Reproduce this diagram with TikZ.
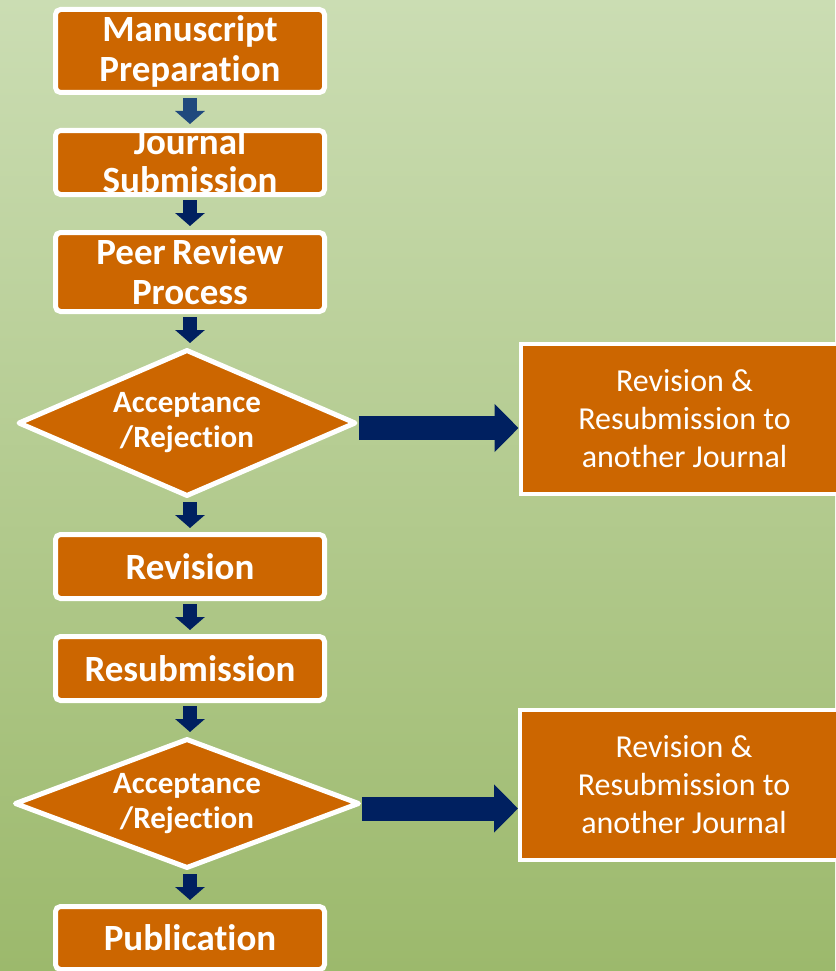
\documentclass[tikz,border=0pt]{standalone}
\usepackage{fontspec}
\setmainfont{Carlito}[Ligatures=NoCommon]
\usetikzlibrary{arrows.meta,positioning,shapes.geometric}

\definecolor{boxorange}{HTML}{CC6600}
\definecolor{navy}{HTML}{002060}
\definecolor{steel}{HTML}{1F497D}
\definecolor{bgtop}{HTML}{CBDDB3}
\definecolor{bgmid}{HTML}{B8CD98}
\definecolor{bgbot}{HTML}{9CB96C}

\begin{document}
\begin{tikzpicture}[node distance=33pt,
    box/.style={draw=white, fill=boxorange, line width=5pt, rounded corners=5pt,
      minimum width=269pt, inner sep=2pt, text=white, align=center,
      font=\fontsize{37}{40}\selectfont\bfseries},
    decision/.style={diamond, aspect=2.6, draw=white, fill=boxorange, line width=5pt,
      line join=round, inner sep=0pt, text=white, align=center,
      font=\fontsize{31}{35}\selectfont\bfseries},
    sidebox/.style={draw=white, fill=boxorange, line width=4pt, minimum width=328pt,
      minimum height=150pt, text=white, align=center,
      font=\fontsize{32}{38}\selectfont},
    flow/.style={draw=navy, line width=14pt, -{Triangle[length=13pt,width=29pt]},
      shorten <=3pt, shorten >=4pt},
    sideflow/.style={draw=navy, line width=24pt, -{Triangle[length=24pt,width=47pt]}}]

    % background
    \useasboundingbox (0,0) rectangle (835pt,-971pt);
    \shade[top color=bgtop, middle color=bgmid, bottom color=bgbot] (0,0) rectangle (835pt,-971pt);

    % the main column
    \node[box, minimum height=83pt]          (prep)    at (190pt,-51pt)  {Manuscript\\Preparation};
    \node[box, minimum height=64pt, text height=60pt, text depth=0pt,
          font=\fontsize{37}{38}\selectfont\bfseries]
                                             (submit)  [below=of prep]   {Journal\\Submission};
    \node[box, minimum height=79pt]          (review)  [below=of submit] {Peer\hspace{-2pt} Review\\Process};
    \node[decision, minimum width=338pt, minimum height=147pt]
                                             (decide1) [below=of review, xshift=-3pt] {Acceptance\\/Rejection};
    \node[box, minimum height=64pt]          (revise)  [below=of decide1, xshift=3pt] {Revision};
    \node[box, minimum height=64pt]          (resub)   [below=of revise] {Resubmission};
    \node[decision, minimum width=345pt, minimum height=130pt]
                                             (decide2) [below=of resub, xshift=-3pt] {Acceptance\\/Rejection};
    \node[box, minimum height=63pt]          (publish) [below=of decide2, xshift=3pt] {Publication};

    % the side boxes
    \node[sidebox] (other1) [right=160pt of decide1, yshift=4pt]  {Revision \&\\Resubmission to\\another Journal};
    \node[sidebox] (other2) [right=156pt of decide2, yshift=19pt] {Revision \&\\Resubmission to\\another Journal};

    % arrows
    \draw[flow, draw=steel] (prep) -- (submit);
    \draw[flow] (submit) -- (review);
    \draw[flow] (review) -- (review |- decide1.north);
    \draw[flow] (revise |- decide1.south) -- (revise);
    \draw[flow] (revise) -- (resub);
    \draw[flow] (resub) -- (resub |- decide2.north);
    \draw[flow] (publish |- decide2.south) -- (publish);
    \draw[sideflow] ([yshift=-5pt]decide1.east) -- ([yshift=-5pt]decide1.east -| other1.west);
    \draw[sideflow] ([yshift=-5pt]decide2.east) -- ([yshift=-5pt]decide2.east -| other2.west);
\end{tikzpicture}
\end{document}
